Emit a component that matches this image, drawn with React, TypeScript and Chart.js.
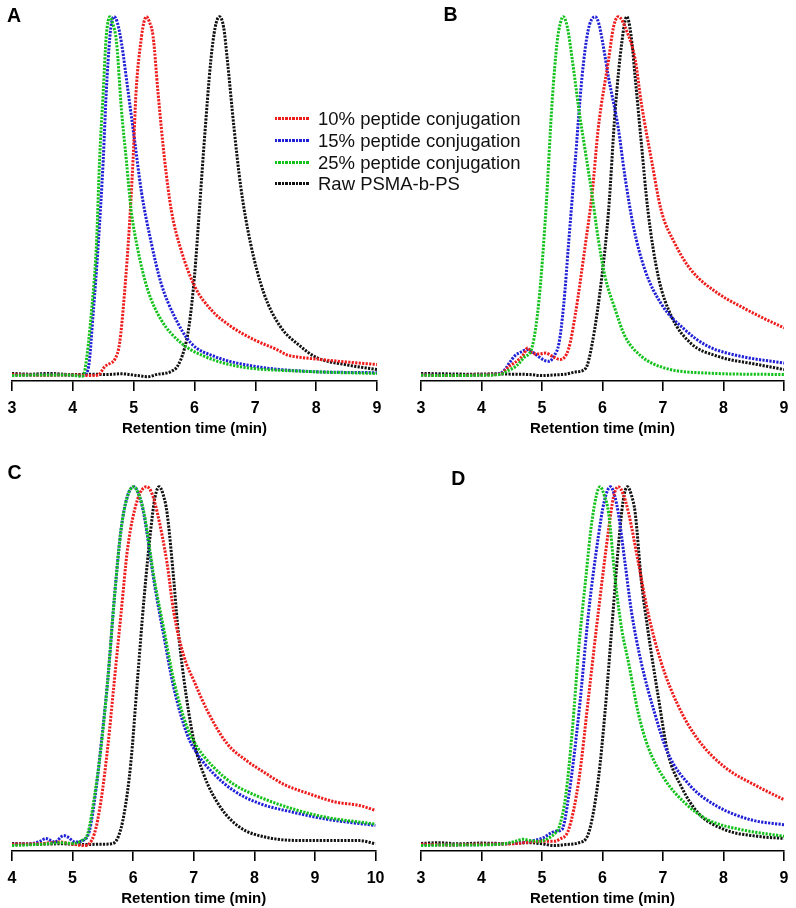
import React, { useEffect, useRef } from "react";
import { Chart, registerables } from "chart.js";

Chart.register(...registerables);

type Pt = [number, number];

const SERIES_LABELS = [
  "10% peptide conjugation",
  "15% peptide conjugation",
  "25% peptide conjugation",
  "Raw PSMA-b-PS",
];
const SERIES_COLORS = ["#ee1c1c", "#1f1fd8", "#12c21a", "#111111"];
const DRAW_ORDER = [1, 2, 0, 3];
const PANEL_LETTERS = ["A", "B", "C", "D"];
const X_TITLE = "Retention time (min)";
const X_RANGE_A: Pt = [3, 9];
const X_RANGE_B: Pt = [3, 9];
const X_RANGE_C: Pt = [4, 10];
const X_RANGE_D: Pt = [3, 9];

// ---- Panel A ----
const A_10: Pt[] = [[3.0,0.003],[3.5,0.001],[4.0,0.002],[4.3,0.0],[4.42,0.002],[4.53,0.026],[4.62,0.035],[4.69,0.045],[4.77,0.091],[4.85,0.23],[4.93,0.416],[4.99,0.6],[5.04,0.79],[5.13,0.945],[5.17,0.985],[5.21,1.0],[5.26,0.985],[5.32,0.945],[5.4,0.79],[5.51,0.6],[5.62,0.46],[5.78,0.35],[6.0,0.25],[6.27,0.184],[6.6,0.137],[6.98,0.1],[7.36,0.072],[7.52,0.058],[7.7,0.052],[8.01,0.046],[8.5,0.038],[9.0,0.031]];
const A_15: Pt[] = [[3.0,0.002],[3.5,0.002],[4.0,0.001],[4.15,0.0],[4.25,0.017],[4.34,0.184],[4.42,0.37],[4.5,0.6],[4.55,0.79],[4.61,0.945],[4.64,0.985],[4.68,1.0],[4.73,0.985],[4.8,0.927],[4.91,0.79],[5.02,0.65],[5.13,0.51],[5.29,0.37],[5.45,0.258],[5.67,0.165],[5.94,0.091],[6.32,0.054],[6.98,0.026],[7.84,0.012],[9.0,0.008]];
const A_25: Pt[] = [[3.0,0.0],[3.5,0.002],[4.0,0.001],[4.15,-0.002],[4.2,0.017],[4.31,0.184],[4.39,0.37],[4.44,0.6],[4.5,0.79],[4.55,0.945],[4.61,1.0],[4.65,0.985],[4.72,0.927],[4.8,0.74],[4.88,0.6],[4.96,0.46],[5.07,0.35],[5.23,0.24],[5.45,0.156],[5.78,0.091],[6.16,0.054],[6.71,0.026],[7.79,0.012],[9.0,0.006]];
const A_RAW: Pt[] = [[3.0,0.006],[3.3,0.004],[3.6,0.006],[3.98,0.003],[4.3,0.004],[4.53,0.003],[4.8,0.005],[5.07,0.0],[5.23,-0.003],[5.4,0.004],[5.51,0.006],[5.62,0.012],[5.72,0.026],[5.83,0.072],[5.91,0.137],[6.0,0.277],[6.08,0.46],[6.16,0.65],[6.27,0.88],[6.34,0.97],[6.41,1.0],[6.48,0.97],[6.54,0.88],[6.65,0.69],[6.76,0.527],[6.92,0.37],[7.14,0.23],[7.41,0.137],[7.74,0.082],[8.01,0.05],[8.5,0.03],[9.0,0.017]];

// ---- Panel B ----
const B_10: Pt[] = [[3.0,0.002],[3.5,0.0],[4.0,0.002],[4.3,0.004],[4.46,0.026],[4.62,0.045],[4.7,0.06],[4.76,0.077],[4.84,0.063],[4.95,0.06],[5.06,0.063],[5.17,0.054],[5.3,0.045],[5.44,0.075],[5.55,0.17],[5.72,0.37],[5.83,0.51],[5.93,0.69],[6.1,0.88],[6.18,0.97],[6.26,1.0],[6.4,0.96],[6.54,0.88],[6.64,0.76],[6.81,0.6],[6.97,0.46],[7.19,0.37],[7.46,0.295],[7.9,0.23],[8.28,0.193],[8.6,0.165],[9.0,0.133]];
const B_15: Pt[] = [[3.0,0.002],[3.6,0.0],[4.0,0.002],[4.3,0.005],[4.4,0.02],[4.46,0.035],[4.55,0.055],[4.62,0.063],[4.76,0.072],[4.85,0.065],[4.95,0.052],[5.05,0.042],[5.12,0.04],[5.2,0.055],[5.28,0.09],[5.36,0.2],[5.44,0.37],[5.55,0.6],[5.66,0.83],[5.76,0.96],[5.88,1.0],[5.94,0.98],[6.0,0.93],[6.1,0.83],[6.26,0.69],[6.37,0.555],[6.51,0.416],[6.7,0.295],[6.97,0.2],[7.36,0.128],[7.74,0.082],[8.28,0.054],[9.0,0.035]];
const B_25: Pt[] = [[3.0,0.001],[3.5,0.0],[4.0,0.001],[4.3,0.003],[4.45,0.015],[4.57,0.026],[4.7,0.05],[4.84,0.082],[4.95,0.21],[5.06,0.45],[5.17,0.77],[5.25,0.93],[5.3,0.98],[5.35,1.0],[5.42,0.97],[5.5,0.88],[5.61,0.74],[5.72,0.62],[5.83,0.5],[5.93,0.38],[6.04,0.277],[6.21,0.184],[6.37,0.11],[6.64,0.054],[7.03,0.021],[7.74,0.007],[9.0,0.003]];
const B_RAW: Pt[] = [[3.0,0.006],[3.4,0.005],[3.8,0.004],[4.2,0.005],[4.5,0.004],[4.8,0.003],[5.0,0.0],[5.2,0.002],[5.39,0.004],[5.55,0.01],[5.72,0.02],[5.83,0.09],[5.99,0.277],[6.1,0.46],[6.21,0.74],[6.32,0.93],[6.4,1.0],[6.47,0.95],[6.54,0.83],[6.64,0.65],[6.75,0.46],[6.92,0.277],[7.14,0.165],[7.46,0.09],[7.9,0.054],[8.56,0.031],[9.0,0.017]];

// ---- Panel C ----
const C_10: Pt[] = [[4.0,0.004],[4.5,0.006],[4.8,0.01],[5.0,0.004],[5.2,0.0],[5.36,0.033],[5.47,0.126],[5.58,0.274],[5.69,0.46],[5.8,0.647],[5.91,0.83],[6.07,0.963],[6.22,1.0],[6.3,0.985],[6.4,0.926],[6.56,0.786],[6.67,0.65],[6.84,0.526],[7.0,0.46],[7.22,0.377],[7.55,0.284],[7.87,0.237],[8.2,0.2],[8.47,0.172],[8.91,0.144],[9.35,0.121],[9.73,0.112],[10.0,0.098]];
const C_15: Pt[] = [[4.0,0.004],[4.3,0.005],[4.49,0.014],[4.55,0.02],[4.71,0.01],[4.85,0.028],[4.93,0.023],[5.04,0.01],[5.17,0.014],[5.28,0.042],[5.39,0.16],[5.47,0.28],[5.58,0.46],[5.69,0.69],[5.8,0.88],[5.9,0.97],[6.01,1.0],[6.1,0.975],[6.18,0.92],[6.35,0.73],[6.51,0.58],[6.67,0.44],[6.89,0.31],[7.06,0.255],[7.33,0.2],[7.65,0.154],[8.09,0.117],[8.64,0.093],[9.18,0.074],[10.0,0.056]];
const C_25: Pt[] = [[4.0,0.0],[4.5,0.004],[4.8,0.008],[5.0,0.006],[5.15,0.014],[5.25,0.033],[5.36,0.135],[5.47,0.274],[5.58,0.46],[5.69,0.69],[5.8,0.88],[5.9,0.97],[6.01,1.0],[6.1,0.975],[6.18,0.926],[6.35,0.74],[6.51,0.6],[6.67,0.46],[6.89,0.33],[7.06,0.274],[7.33,0.218],[7.65,0.172],[8.09,0.135],[8.64,0.102],[9.18,0.079],[10.0,0.06]];
const C_RAW: Pt[] = [[4.0,0.006],[4.4,0.004],[4.8,0.005],[5.2,0.003],[5.5,0.004],[5.64,0.005],[5.75,0.023],[5.85,0.088],[5.96,0.228],[6.07,0.46],[6.18,0.69],[6.29,0.88],[6.36,0.97],[6.43,1.0],[6.5,0.975],[6.56,0.926],[6.67,0.74],[6.73,0.62],[6.84,0.46],[7.0,0.293],[7.16,0.2],[7.44,0.107],[7.76,0.051],[8.2,0.023],[8.91,0.014],[9.73,0.014],[10.0,0.005]];

// ---- Panel D ----
const D_10: Pt[] = [[3.0,0.004],[3.5,0.002],[4.0,0.004],[4.5,0.005],[4.8,0.01],[5.0,0.012],[5.2,0.012],[5.28,0.017],[5.44,0.045],[5.61,0.184],[5.77,0.416],[5.93,0.65],[6.1,0.88],[6.18,0.97],[6.26,1.0],[6.34,0.98],[6.43,0.927],[6.59,0.79],[6.75,0.65],[6.97,0.51],[7.25,0.39],[7.58,0.295],[8.01,0.22],[8.56,0.165],[9.0,0.128]];
const D_15: Pt[] = [[3.0,0.003],[3.5,0.002],[4.0,0.003],[4.5,0.006],[4.8,0.012],[5.01,0.021],[5.22,0.04],[5.33,0.045],[5.44,0.137],[5.61,0.37],[5.77,0.65],[5.93,0.86],[6.03,0.96],[6.13,1.0],[6.2,0.975],[6.26,0.927],[6.37,0.79],[6.48,0.65],[6.64,0.51],[6.86,0.37],[7.08,0.258],[7.46,0.165],[7.9,0.109],[8.45,0.072],[9.0,0.058]];
const D_25: Pt[] = [[3.0,0.0],[3.5,0.002],[4.0,0.002],[4.4,0.006],[4.6,0.014],[4.68,0.018],[4.8,0.014],[4.95,0.012],[5.1,0.02],[5.22,0.035],[5.28,0.05],[5.39,0.137],[5.5,0.32],[5.61,0.555],[5.72,0.74],[5.83,0.91],[5.96,1.0],[6.03,0.975],[6.1,0.927],[6.21,0.74],[6.32,0.6],[6.43,0.51],[6.59,0.37],[6.75,0.276],[7.03,0.184],[7.36,0.119],[7.74,0.072],[8.28,0.045],[9.0,0.026]];
const D_RAW: Pt[] = [[3.0,0.006],[3.3,0.008],[3.6,0.005],[4.0,0.007],[4.4,0.006],[4.8,0.008],[5.0,0.005],[5.2,0.0],[5.4,0.003],[5.61,0.008],[5.77,0.035],[5.93,0.184],[6.04,0.37],[6.15,0.6],[6.26,0.83],[6.34,0.96],[6.41,1.0],[6.48,0.975],[6.54,0.927],[6.64,0.74],[6.75,0.6],[6.92,0.416],[7.08,0.258],[7.3,0.165],[7.58,0.091],[8.01,0.045],[8.56,0.026],[9.0,0.02]];

const PANEL_SERIES: Pt[][][] = [
  [A_10, A_15, A_25, A_RAW],
  [B_10, B_15, B_25, B_RAW],
  [C_10, C_15, C_25, C_RAW],
  [D_10, D_15, D_25, D_RAW],
];
const PANEL_RANGES: Pt[] = [X_RANGE_A, X_RANGE_B, X_RANGE_C, X_RANGE_D];

// layout (page pixels)
const FONT = "'Liberation Sans', Arial, Helvetica, sans-serif";
const CANVAS_H = 438;
const AXIS_H = 57;
const PAD_TOP = 12;
const PANEL_BOX = [
  { left: 0, top: 0, width: 392, plotL: 10, plotR: 377 },
  { left: 400, top: 0, width: 396, plotL: 21, plotR: 387 },
  { left: 0, top: 470, width: 392, plotL: 10, plotR: 377 },
  { left: 400, top: 470, width: 396, plotL: 21, plotR: 387 },
];
const LETTER_POS = [
  { left: 7, top: 5.2 },
  { left: 443.6, top: 4.2 },
  { left: 7.4, top: 462.2 },
  { left: 451.3, top: 468.2 },
];

function Panel({ index }: { index: number }) {
  const ref = useRef<HTMLCanvasElement | null>(null);
  const box = PANEL_BOX[index];
  useEffect(() => {
    if (!ref.current) return;
    const series = PANEL_SERIES[index];
    const [xmin, xmax] = PANEL_RANGES[index];
    const chart = new Chart(ref.current, {
      type: "line",
      data: {
        datasets: series.map((pts, i) => ({
          label: SERIES_LABELS[i],
          data: pts.map(([x, y]) => ({ x, y })),
          borderColor: SERIES_COLORS[i],
          backgroundColor: SERIES_COLORS[i],
          borderWidth: 3,
          borderDash: [2.2, 1.3],
          borderCapStyle: "butt",
          pointRadius: 0,
          pointHoverRadius: 0,
          fill: false,
          cubicInterpolationMode: "monotone",
          order: DRAW_ORDER[i],
        })),
      },
      options: {
        animation: false,
        responsive: false,
        maintainAspectRatio: false,
        events: [],
        layout: {
          padding: {
            left: box.plotL,
            right: box.width - box.plotR,
            top: PAD_TOP,
            bottom: 0,
          },
        },
        scales: {
          x: {
            type: "linear",
            position: "bottom",
            min: xmin,
            max: xmax,
            afterFit: (s: any) => {
              s.height = AXIS_H;
            },
            ticks: {
              stepSize: 1,
              autoSkip: false,
              maxRotation: 0,
              padding: 7.5,
              color: "#000",
              font: { family: FONT, size: 16, weight: "bold" },
            },
            grid: {
              display: true,
              drawOnChartArea: false,
              drawTicks: true,
              tickLength: 10,
              color: "#000",
              lineWidth: 1.6,
            },
            border: { display: true, color: "#000", width: 1.6 },
            title: {
              display: true,
              text: X_TITLE,
              color: "#000",
              font: { family: FONT, size: 15, weight: "bold" },
              padding: { top: 0, bottom: 0 },
            },
          },
          y: { display: false, min: -0.015, max: 1.013 },
        },
        plugins: {
          legend: { display: false },
          tooltip: { enabled: false },
          title: { display: false },
        },
      },
    } as any);
    return () => chart.destroy();
  }, [index]);
  return (
    <canvas
      ref={ref}
      width={box.width}
      height={CANVAS_H}
      style={{
        position: "absolute",
        left: box.left,
        top: box.top,
        width: box.width,
        height: CANVAS_H,
      }}
    />
  );
}

const LEGEND_LINE_L = 275;
const LEGEND_LINE_W = 34;
const LEGEND_TEXT_L = 318;
const LEGEND_ROW0 = 118.8;
const LEGEND_ROW_GAP = 21.6;

function Legend() {
  return (
    <>
      {SERIES_LABELS.map((lab, i) => {
        const cy = LEGEND_ROW0 + i * LEGEND_ROW_GAP;
        return (
          <React.Fragment key={lab}>
            <div
              style={{
                position: "absolute",
                left: LEGEND_LINE_L,
                top: cy - 1.5,
                width: LEGEND_LINE_W,
                height: 3,
                background: `repeating-linear-gradient(to right, ${SERIES_COLORS[i]} 0px, ${SERIES_COLORS[i]} 2.2px, transparent 2.2px, transparent 3.5px)`,
                zIndex: 3,
              }}
            />
            <div
              style={{
                position: "absolute",
                left: LEGEND_TEXT_L,
                top: cy - 10.5,
                fontFamily: FONT,
                fontSize: 18.5,
                lineHeight: "21.5px",
                color: "#111",
                whiteSpace: "nowrap",
                zIndex: 3,
              }}
            >
              {lab}
            </div>
          </React.Fragment>
        );
      })}
    </>
  );
}

export default function App() {
  return (
    <div
      style={{
        position: "absolute",
        left: 0,
        top: 0,
        width: 796,
        height: 908,
        overflow: "hidden",
        background: "#fff",
      }}
    >
      {PANEL_BOX.map((_, i) => (
        <Panel key={i} index={i} />
      ))}
      {PANEL_LETTERS.map((l, i) => (
        <div
          key={l}
          style={{
            position: "absolute",
            left: LETTER_POS[i].left,
            top: LETTER_POS[i].top,
            fontFamily: FONT,
            fontWeight: "bold",
            fontSize: 19.5,
            lineHeight: "20px",
            color: "#000",
            zIndex: 2,
          }}
        >
          {l}
        </div>
      ))}
      <Legend />
    </div>
  );
}
